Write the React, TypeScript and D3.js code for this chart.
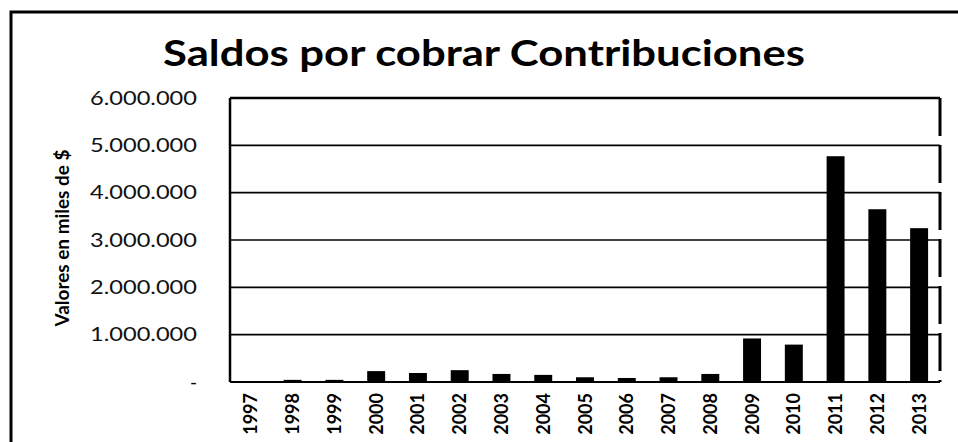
import * as d3 from "d3"

const years = ["1997", "1998", "1999", "2000", "2001", "2002", "2003", "2004", "2005", "2006", "2007", "2008", "2009", "2010", "2011", "2012", "2013"]
const saldos = [15000, 45000, 45000, 230000, 190000, 250000, 170000, 150000, 100000, 85000, 100000, 170000, 920000, 790000, 4770000, 3650000, 3250000]
const yTicks = [0, 1000000, 2000000, 3000000, 4000000, 5000000, 6000000]

const title = "Saldos por cobrar Contribuciones"
const yTitle = "Valores en miles de $"

const W = 958
const H = 442
const margin = { top: 98, right: 18, bottom: 60, left: 230 }
const FONT = "Lato, 'Open Sans', sans-serif"

const fmt = (v: number) => (v === 0 ? "-" : d3.format(",")(v).replace(/,/g, "."))

export default function App() {
  const innerW = W - margin.left - margin.right
  const innerH = H - margin.top - margin.bottom

  const x = d3.scaleBand<string>().domain(years).range([0, innerW]).paddingInner(0.57).paddingOuter(0.285)
  const y = d3.scaleLinear().domain([0, 6000000]).range([innerH, 0])

  return (
    <svg width={W} height={H} style={{ position: "absolute", left: 0, top: 0, background: "#fff" }}>
      {/* outer frame */}
      <path d={`M11,${H + 5} L11,12 L${W + 5},12`} fill="none" stroke="#000" strokeWidth={3} />

      <text x={163} y={66} fontFamily={FONT} fontWeight={700} fontSize={37} textLength={642}
        lengthAdjust="spacingAndGlyphs" fill="#000">{title}</text>

      <text transform={`translate(69,238) rotate(-90)`} textAnchor="middle" fontFamily={FONT}
        fontWeight={700} fontSize={19} textLength={177} lengthAdjust="spacingAndGlyphs" fill="#000">{yTitle}</text>

      <g transform={`translate(${margin.left},${margin.top})`}>
        {yTicks.map(t => (
          <g key={t}>
            <line x1={0} x2={innerW} y1={y(t)} y2={y(t)} stroke="#000" strokeWidth={t === 6000000 ? 2.5 : t === 0 ? 2 : 1.6} />
            {t === 0 ? (
              <text x={-33} y={y(t)} dy="0.35em" textAnchor="end" fontFamily={FONT} fontSize={19} fill="#000">-</text>
            ) : (
              <text x={-33} y={y(t)} dy="0.35em" textAnchor="end" fontFamily={FONT} fontSize={19}
                textLength={107} lengthAdjust="spacingAndGlyphs" fill="#111">{fmt(t)}</text>
            )}
          </g>
        ))}

        {/* plot borders */}
        <line x1={0} x2={0} y1={0} y2={innerH} stroke="#000" strokeWidth={2.5} />
        <line x1={innerW} x2={innerW} y1={0} y2={innerH} stroke="#000" strokeWidth={3} strokeDasharray="38,9" />

        {years.map((yr, i) => (
          <rect key={yr} x={x(yr)} y={y(saldos[i])} width={x.bandwidth()} height={innerH - y(saldos[i])} fill="#000" />
        ))}

        {years.map(yr => (
          <text key={yr} transform={`translate(${(x(yr) ?? 0) + x.bandwidth() / 2 + 6.5},${innerH + 11}) rotate(-90)`}
            textAnchor="end" fontFamily={FONT} fontWeight={700} fontSize={18} fill="#000">{yr}</text>
        ))}
      </g>
    </svg>
  )
}
